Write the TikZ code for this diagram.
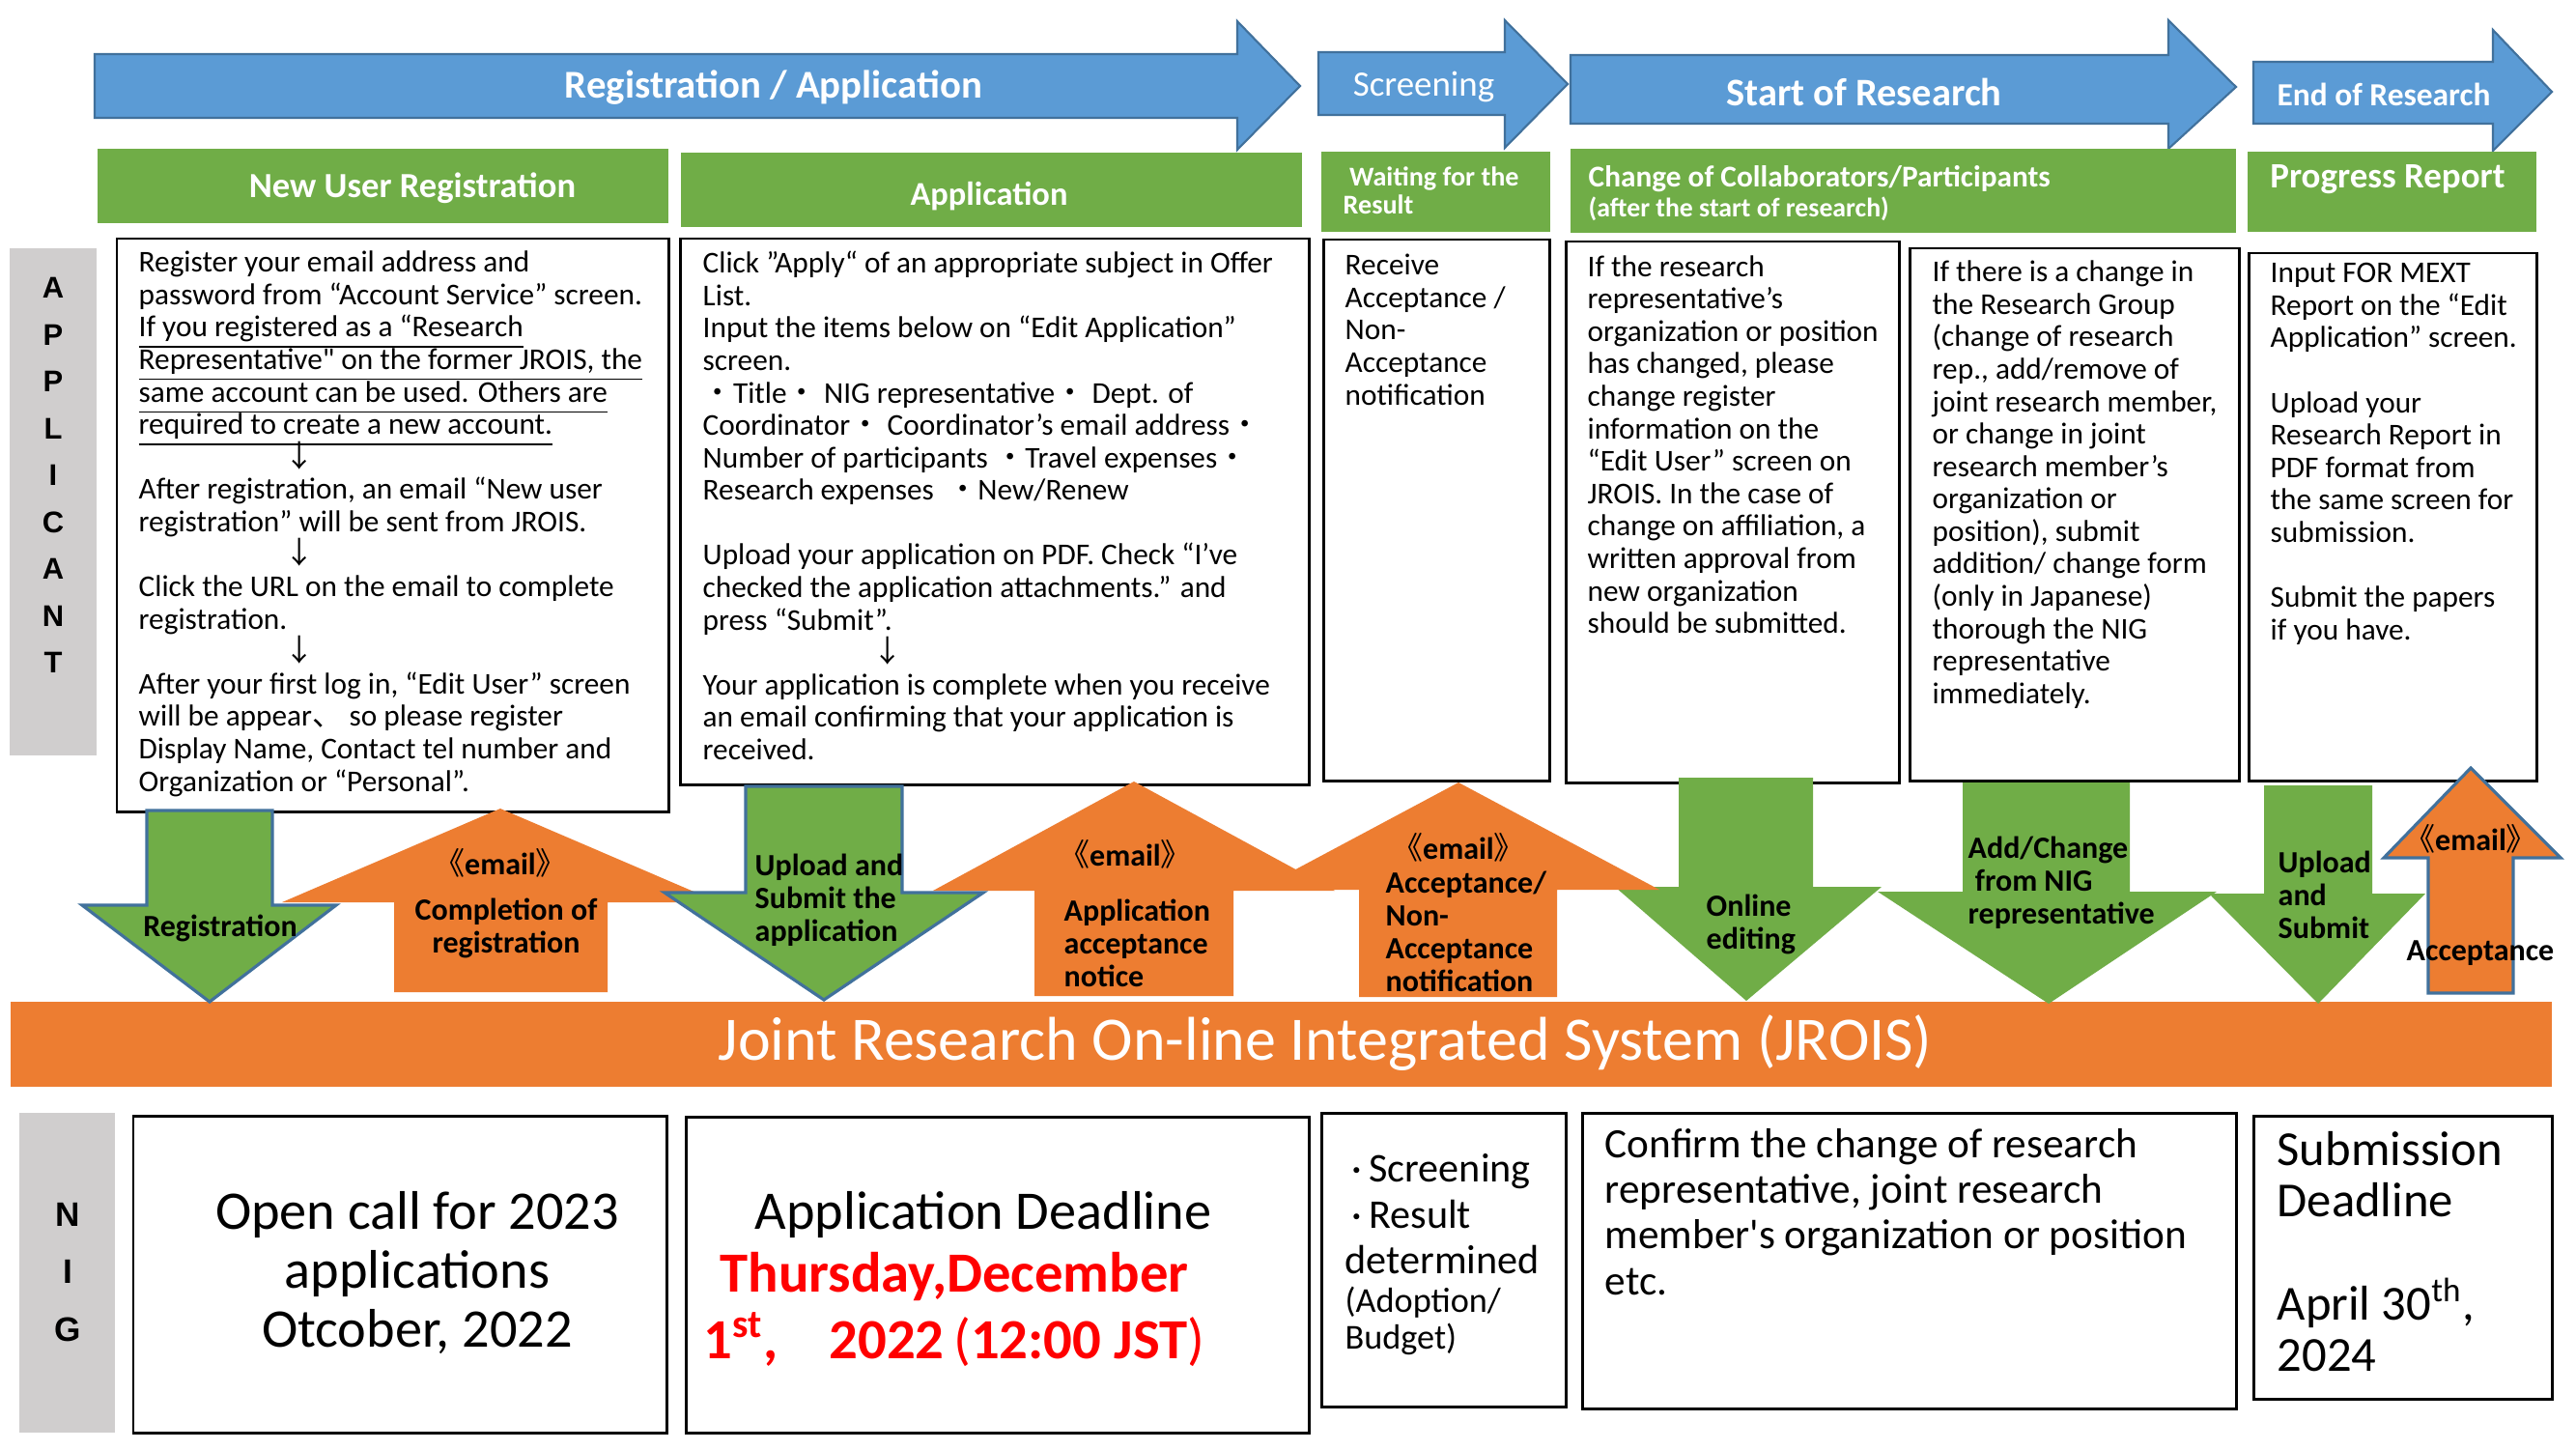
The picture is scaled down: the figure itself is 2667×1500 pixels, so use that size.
\documentclass[tikz,border=0pt]{standalone}
\usepackage{fontspec}
\setmainfont{Carlito}
\newfontfamily\cjk{Noto Sans CJK JP}
\newfontfamily\lsans{Liberation Sans}
\newfontfamily\carraw{Carlito}
\usetikzlibrary{fit}
\definecolor{cblue}{HTML}{5B9BD5}
\definecolor{cblueline}{HTML}{41719C}
\definecolor{cgreen}{HTML}{70AD47}
\definecolor{corange}{HTML}{ED7D31}
\definecolor{cgray}{HTML}{D0CECE}
\definecolor{cred}{HTML}{FF0000}
\newcommand\fsz[2]{\fontsize{#1}{#2}\selectfont}
\newcommand\myul[1]{\smash{\underline{#1\vphantom{gy}}}}
\newcommand\jd{\smash{\cjk ・}}
\newcommand\jar{\smash{\cjk ↓}}
\newcommand\jcomma{\smash{\cjk 、}}
\newcommand\eml{\smash{\cjk\mdseries 《}email\smash{\cjk\mdseries 》}}
\newcommand\sq{{\carraw '}}
\newcommand\dq{{\carraw "}}
\tikzset{
  hdr/.style={fill=cgreen, draw=none, inner sep=0pt},
  graybar/.style={fill=cgray, draw=none, inner sep=0pt},
  tbox/.style={draw=black, line width=0.85pt, fill=white, inner sep=0pt},
  body/.style={anchor=north west, inner sep=0pt, align=left, font=\fsz{8.9}{9.55}},
  toparrow/.style={fill=cblue, draw=cblueline, line width=0.6pt},
  toptxt/.style={text=white, inner sep=0pt},
  hdrtxt/.style={text=white, inner sep=0pt, font=\bfseries\fsz{10.4}{11}},
  garrow/.style={fill=cgreen, draw=none},
  garrowline/.style={fill=cgreen, draw=cblueline, line width=0.9pt},
  oarrow/.style={fill=corange, draw=none},
  oarrowline/.style={fill=corange, draw=cblueline, line width=0.9pt},
  lbl/.style={inner sep=0pt, font=\bfseries\fsz{9.1}{9.67}},
}
\begin{document}
\begin{tikzpicture}[x=0.01cm, y=-0.01cm]
\useasboundingbox (0,0) rectangle (2667,1500);
\fill[white] (0,0) rectangle (2667,1500);

% ---- top blue phase arrows
\draw[toparrow] (98,56) -- (1281,56) -- (1281,22) -- (1346,89) -- (1281,155) -- (1281,122) -- (98,122) -- cycle;
\draw[toparrow] (1365,54) -- (1558,54) -- (1558,21) -- (1623,87) -- (1558,153) -- (1558,119) -- (1365,119) -- cycle;
\draw[toparrow] (1626,57) -- (2245,57) -- (2245,21) -- (2315,90) -- (2245,154) -- (2245,128) -- (1626,128) -- cycle;
\draw[toparrow] (2333,64) -- (2581,64) -- (2581,31) -- (2642,95) -- (2581,156) -- (2581,128) -- (2333,128) -- cycle;
\node[toptxt, font=\bfseries\fsz{11.6}{12}] (a1t) at (801,91) {Registration / Application};
\node[toptxt, font=\fsz{10.5}{11}] (a2t) at (1474,90) {Screening};
\node[toptxt, font=\bfseries\fsz{11.5}{12}] (a3t) at (1930,95) {Start of Research};
\node[toptxt, font=\bfseries\fsz{9.5}{10}] (a4t) at (2468,98) {End of Research};

% ---- green headers
\node[hdr, fit={(101,154) (692,231)}] (g1) {};
\node[hdr, fit={(705,158) (1348,235)}] (g2) {};
\node[hdr, fit={(1368,157) (1605,240)}] (g3) {};
\node[hdr, fit={(1626,154) (2315,241)}] (g4) {};
\node[hdr, fit={(2327,157) (2626,240)}] (g5) {};
\node[hdrtxt] (g1t) at (427,195) {New User Registration};
\node[hdrtxt, font=\bfseries\fsz{9.8}{11}] (g2t) at (1024,203) {Application};
\node[hdrtxt, anchor=north west, align=left, font=\bfseries\fsz{8}{8.3}] (g3t) at (1390,171) {\strut\ Waiting for the\\Result};
\node[hdrtxt, anchor=north west, align=left, font=\bfseries\fsz{8.9}{8.8}] (g4t) at (1644,171) {\strut Change of Collaborators/Participants\\{\fsz{7.9}{8.8}(after the start of research)}};
\node[hdrtxt, font=\bfseries\fsz{10.5}{11}] (g5t) at (2472,186) {Progress Report};

% ---- side bars
\node[graybar, fit={(10,257) (100,782)}] (applbar) {};
\node[align=center, inner sep=0pt, font=\lsans\bfseries\fsz{8.8}{13.8}] (appl) at (55,492) {A\\P\\P\\L\\I\\C\\A\\N\\T};
\node[graybar, fit={(20,1152) (119,1483)}] (nigbar) {};
\node[align=center, inner sep=0pt, font=\lsans\bfseries\fsz{10}{16.8}] (nig) at (70,1317) {N\\I\\G};

% ---- applicant boxes
\node[tbox, fit={(121,247) (692,840)}] (b1) {};
\node[tbox, fit={(704,247) (1355,812)}] (b2) {};
\node[tbox, fit={(1370,248) (1604,808)}] (b3) {};
\node[tbox, fit={(1621,250) (1966,810)}] (b4) {};
\node[tbox, fit={(1977,257) (2318,808)}] (b5) {};
\node[tbox, fit={(2328,262) (2626,808)}] (b6) {};

\node[body] (b1t) at (143,257.5) {\strut Register your email address and\\
password from “Account Service” screen.\\
\myul{If you registered as a “Research}\\
\myul{Representative\dq\ on the former JROIS, the}\\
\myul{same account can be used. Others are}\\
\myul{required to create a new account.}\\
\hspace*{43pt}\jar\\
After registration, an email “New user\\
registration” will be sent from JROIS.\\
\hspace*{43pt}\jar\\
Click the URL on the email to complete\\
registration.\\
\hspace*{43pt}\jar\\
After your first log in, “Edit User” screen\\
will be appear\jcomma\ so please register\\
Display Name, Contact tel number and\\
Organization or “Personal”.};

\node[body] (b2t) at (727,258.5) {\strut Click ”Apply“ of an appropriate subject in Offer\\
List.\\
Input the items below on “Edit Application”\\
screen.\\
\jd Title\jd\ NIG representative\jd\ Dept. of\\
Coordinator\jd\ Coordinator’s email address\jd\\
Number of participants \jd Travel expenses\jd\\
Research expenses \ \jd New/Renew\\
\mbox{}\\
Upload your application on PDF. Check “I’ve\\
checked the application attachments.” and\\
press “Submit”.\\
\hspace*{50pt}\jar\\
Your application is complete when you receive\\
an email confirming that your application is\\
received.};

\node[body] (b3t) at (1392,260.5) {\strut Receive\\Acceptance /\\Non-\\Acceptance\\notification};

\node[body] (b4t) at (1643,262) {\strut If the research\\
representative’s\\
organization or position\\
has changed, please\\
change register\\
information on the\\
“Edit User” screen on\\
JROIS. In the case of\\
change on affiliation, a\\
written approval from\\
new organization\\
should be submitted.};

\node[body] (b5t) at (2000,267.5) {\strut If there is a change in\\
the Research Group\\
(change of research\\
rep., add/remove of\\
joint research member,\\
or change in joint\\
research member’s\\
organization or\\
position), submit\\
addition/ change form\\
(only in Japanese)\\
thorough the NIG\\
representative\\
immediately.};

\node[body] (b6t) at (2350,268.5) {\strut Input FOR MEXT\\
Report on the “Edit\\
Application” screen.\\
\mbox{}\\
Upload your\\
Research Report in\\
PDF format from\\
the same screen for\\
submission.\\
\mbox{}\\
Submit the papers\\
if you have.};

% ---- JROIS bar
\node[fill=corange, draw=none, inner sep=0pt, fit={(11,1037) (2642,1125)}] (jrois) {};
\node[text=white, inner sep=0pt, font=\fsz{18.2}{19}] (jroist) at (1372,1080) {Joint Research On-line Integrated System (JROIS)};

% ---- middle block arrows
\draw[oarrow] (408,1027) -- (408,934) -- (292,934) -- (518,837) -- (744,934) -- (629,934) -- (629,1027) -- cycle;
\draw[oarrow] (1071,1031) -- (1071,922) -- (966,922) -- (1174,809) -- (1382,922) -- (1277,922) -- (1277,1031) -- cycle;
\draw[garrowline] (152,839) -- (282,839) -- (282,937) -- (348,937) -- (217,1037) -- (85,937) -- (152,937) -- cycle;
\draw[garrowline] (772,814) -- (934,814) -- (934,924) -- (1018,924) -- (853,1035) -- (688,924) -- (772,924) -- cycle;
\draw[garrow] (1738,805) -- (1877,805) -- (1877,918) -- (1948,918) -- (1808,1036) -- (1672,918) -- (1738,918) -- cycle;
\draw[oarrow] (1407,1032) -- (1407,921) -- (1302,921) -- (1510,810) -- (1718,921) -- (1612,921) -- (1612,1032) -- cycle;
\draw[garrow] (2032,810) -- (2205,810) -- (2205,923) -- (2295,923) -- (2121,1039) -- (1944,923) -- (2032,923) -- cycle;
\draw[garrow] (2344,813) -- (2456,813) -- (2456,925) -- (2511,925) -- (2400,1039) -- (2287,925) -- (2344,925) -- cycle;
\draw[oarrowline] (2514,1028) -- (2514,888) -- (2468,888) -- (2558,795) -- (2651,888) -- (2602,888) -- (2602,1028) -- cycle;

\node[lbl] (d1t) at (228,961) {Registration};
\node[lbl] (u1e) at (518,894) {\eml};
\node[lbl, align=center] (u1t) at (524,961) {Completion of\\registration};
\node[lbl, align=left, anchor=west] (d2t) at (781,932) {Upload and\\Submit the\\application};
\node[lbl] (u2e) at (1165,885) {\eml};
\node[lbl, align=left, anchor=west] (u2t) at (1101,976) {Application\\acceptance\\notice};
\node[lbl] (u3e) at (1510,878) {\eml};
\node[lbl, align=left, anchor=west] (u3t) at (1434,964) {Acceptance/\\Non-\\Acceptance\\notification};
\node[lbl, align=left, anchor=west] (d3t) at (1766,957) {Online\\editing};
\node[lbl, align=left, anchor=west] (d4t) at (2037,914) {Add/Change\\\ from NIG\\representative};
\node[lbl, align=left, anchor=west] (d5t) at (2358,926) {Upload\\and\\Submit};
\node[lbl] (u4e) at (2558,869) {\eml};
\node[lbl] (u4t) at (2568,987) {Acceptance};

% ---- NIG boxes
\node[tbox, fit={(138,1155) (690,1483)}] (n1) {};
\node[tbox, fit={(710,1156) (1355,1483)}] (n2) {};
\node[tbox, fit={(1368,1152) (1621,1456)}] (n3) {};
\node[tbox, fit={(1638,1152) (2315,1458)}] (n4) {};
\node[tbox, fit={(2333,1155) (2642,1448)}] (n5) {};

\node[anchor=north, align=center, inner sep=0pt, font=\fsz{16}{17.35}] (n1t) at (432,1229) {\strut Open call for 2023\\applications\\Otcober, 2022};
\node[anchor=base, inner sep=0pt, font=\fsz{16}{17.35}] (n2h) at (1018,1272) {Application Deadline};
\node[anchor=north, align=center, inner sep=0pt, text=cred, font=\bfseries\fsz{16.7}{16.8}] (n2r) at (988,1295) {\strut Thursday,December\\1\textsuperscript{st},\hspace{0.9em}2022\,{\mdseries(}12:00 JST{\mdseries)}};
\node[anchor=north west, align=left, inner sep=0pt, font=\fsz{12}{13.6}] (n3t) at (1392,1189) {\strut\,·\,Screening\\\,·\,Result\\determined\\[-2.2pt]{\fsz{10.3}{13.6}(Adoption/}\\[-3pt]{\fsz{10.3}{13.6}Budget)}};
\node[anchor=north west, align=left, inner sep=0pt, font=\fsz{12.3}{13.4}] (n4t) at (1661,1165) {\strut Confirm the change of research\\representative, joint research\\member\sq s organization or position\\etc.};
\node[anchor=north west, align=left, inner sep=0pt, font=\fsz{14.4}{15.1}] (n5t) at (2357,1169) {\strut Submission\\Deadline\\\mbox{}\\April 30\textsuperscript{th},\\2024};
\end{tikzpicture}
\end{document}
